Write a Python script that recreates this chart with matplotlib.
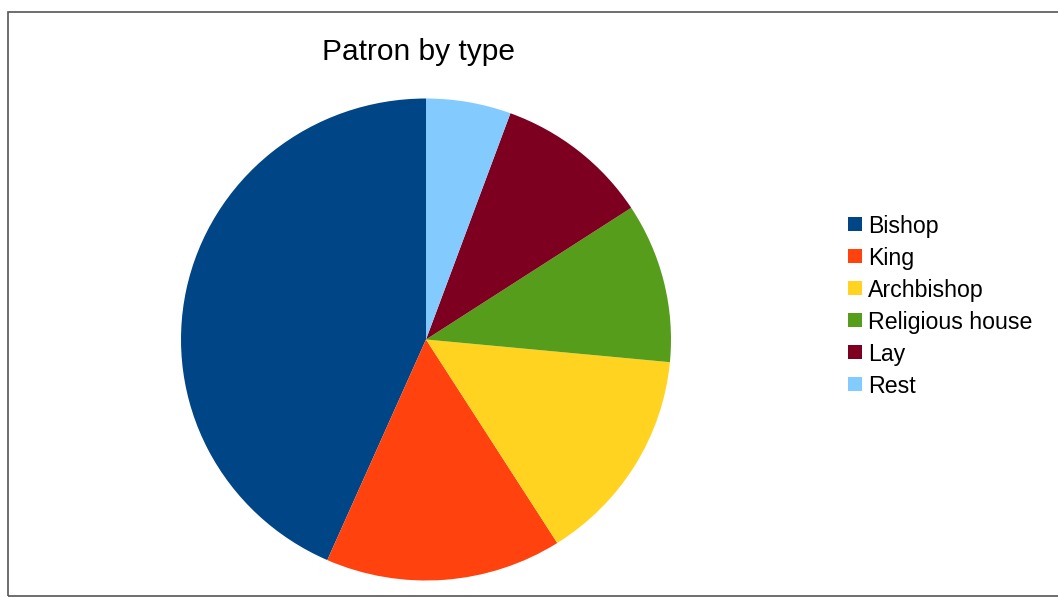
import matplotlib
matplotlib.use("Agg")
import matplotlib.pyplot as plt
from matplotlib.patches import Rectangle

plt.rcParams['font.family'] = ['Liberation Sans', 'DejaVu Sans']

categories = ["Bishop", "King", "Archbishop", "Religious house", "Lay", "Rest"]
values = [43.4, 15.6, 14.5, 10.7, 10.2, 5.6]
colors = ["#004586", "#ff420e", "#ffd320", "#579d1c", "#7e0021", "#83caff"]
title = "Patron by type"

W, H = 1058, 597
fig = plt.figure(figsize=(W / 100, H / 100), dpi=100)

# outer border
fig.patches.append(Rectangle((8 / W, (H - 595.5) / H), (W + 10 - 8) / W, (595.5 - 12) / H,
                             transform=fig.transFigure, fill=False,
                             edgecolor="#555555", linewidth=1.2))

cx, cy, rx, ry = 426, 339.5, 245, 241
ax = fig.add_axes([(cx - rx) / W, (H - cy - ry) / H, 2 * rx / W, 2 * ry / H])
ax.pie(values, colors=colors, startangle=90, counterclock=True,
       wedgeprops=dict(linewidth=0), radius=1)
ax.set_aspect('auto')
ax.set_xlim(-1, 1)
ax.set_ylim(-1, 1)
ax.axis('off')

fig.text(418 / W, 1 - 52 / H, title, ha='center', va='center', fontsize=21.5)

for i, (lab, col) in enumerate(zip(categories, colors)):
    yc = 224 + 32 * i
    fig.patches.append(Rectangle((848 / W, (H - yc - 7) / H), 14 / W, 14 / H,
                                 transform=fig.transFigure, facecolor=col,
                                 edgecolor='none'))
    fig.text(868 / W, 1 - yc / H, lab, ha='left', va='center_baseline', fontsize=16.7)

fig.savefig("out.png", dpi=100)
